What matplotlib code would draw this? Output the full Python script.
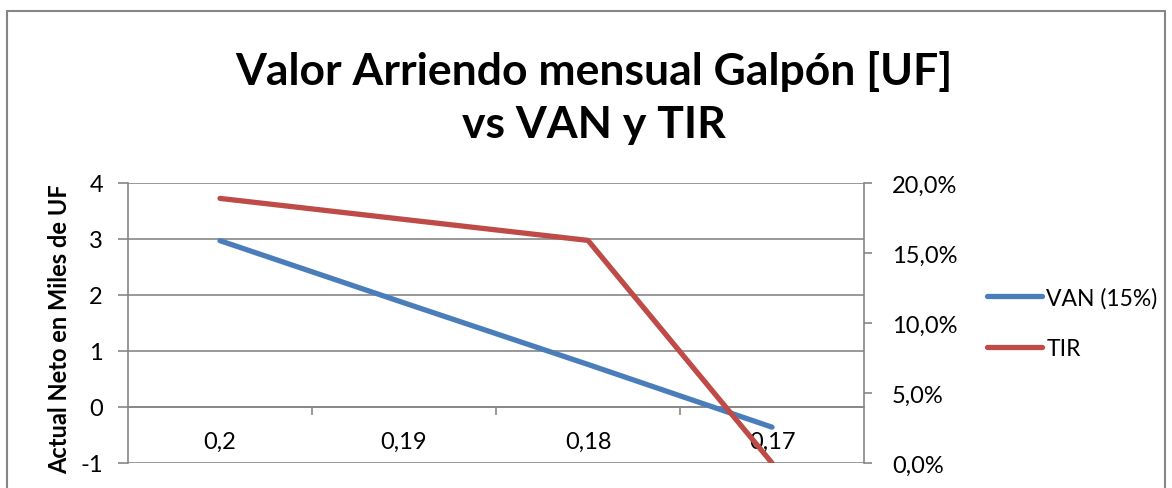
import numpy as np
import matplotlib
matplotlib.use("Agg")
from matplotlib import pyplot as plt
from matplotlib.patches import Rectangle
from matplotlib.ticker import FuncFormatter

categorias = ["0,2", "0,19", "0,18", "0,17"]
van = [2.97, 1.86, 0.76, -0.36]        # miles de UF
tir = [0.189, 0.174, 0.159, 0.0]       # fraccion

azul = "#4A7EBB"
rojo = "#BE4B48"
gris = "#868686"

plt.rcParams['font.family'] = ['Lato', 'DejaVu Sans']
plt.rcParams['axes.unicode_minus'] = False

fig = plt.figure(figsize=(11.72, 4.89), dpi=100)
W, H = 1172, 489
ax = fig.add_axes([128/W, 1-464/H, (864-128)/W, (464-184)/H])
x = np.arange(len(categorias))

ax.plot(x, van, color=azul, linewidth=3.8, solid_capstyle='round', label="VAN (15%)", zorder=3)
ax.set_xlim(-0.5, 3.5)
ax.set_ylim(-1, 4)
ax.set_yticks(range(-1, 5))
ax.grid(axis='y', color=gris, linewidth=1.2)
ax.set_axisbelow(True)
for s in ['top', 'right']:
    ax.spines[s].set_visible(False)
ax.spines['left'].set_color(gris)
ax.spines['left'].set_linewidth(1.2)
ax.spines['bottom'].set_position(('data', 0))
ax.spines['bottom'].set_color(gris)
ax.spines['bottom'].set_linewidth(1.2)
ax.tick_params(axis='y', direction='out', length=7, width=1.2, color=gris, labelsize=17, pad=11)
ax.set_xticks(x)
ax.set_xticklabels(categorias)
ax.tick_params(axis='x', which='major', length=0, labelsize=17, pad=17)
ax.set_xticks([0.5, 1.5, 2.5], minor=True)
ax.tick_params(axis='x', which='minor', direction='out', length=6, width=1.2, color=gris)

ax2 = ax.twinx()
ax2.plot(x, tir, color=rojo, linewidth=3.8, solid_capstyle='round', label="TIR", zorder=3)
ax2.set_ylim(0, 0.2)
ax2.set_yticks(np.arange(0, 0.201, 0.05))
ax2.yaxis.set_major_formatter(FuncFormatter(lambda v, p: f"{v*100:.1f}%".replace(".", ",")))
for s in ['top', 'left', 'bottom']:
    ax2.spines[s].set_visible(False)
ax2.spines['right'].set_color(gris)
ax2.spines['right'].set_linewidth(1.2)
ax2.tick_params(axis='y', direction='out', length=6, width=1.2, color=gris, labelsize=17, pad=14)
ax2.set_zorder(ax.get_zorder() + 1)
ax2.patch.set_visible(False)

h1, l1 = ax.get_legend_handles_labels()
h2, l2 = ax2.get_legend_handles_labels()
fig.legend(h1 + h2, l1 + l2, loc='center left', bbox_to_anchor=(966/W, 1-324/H),
           frameon=False, fontsize=16.5, handlelength=2.4, handletextpad=0.2, labelspacing=1.3)

fig.text(594/W, 1-98/H, "Valor Arriendo mensual Galpón [UF]\nvs VAN y TIR", ha='center', va='center',
         fontsize=32, fontweight='bold', linespacing=1.4)

fig.text(60/W, 1-184/H, "Actual Neto en Miles de UF", rotation=90, ha='center', va='top',
         fontsize=17, fontweight='bold')

fig.patches.append(Rectangle((7/W, -0.2), (1165-7)/W, 1.2 - 12/H, transform=fig.transFigure,
                             fill=False, edgecolor=gris, linewidth=1.5))

fig.savefig("out.png", dpi=100)
